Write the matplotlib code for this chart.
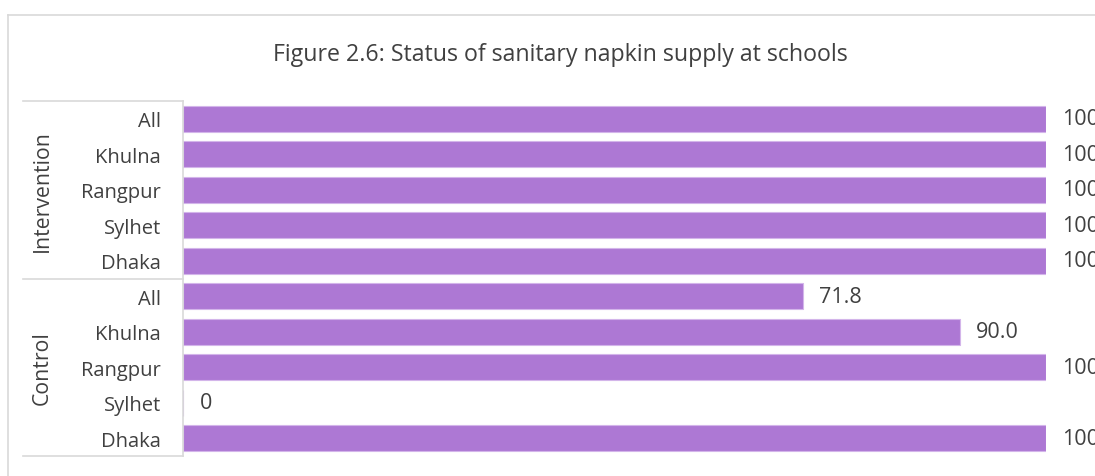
import matplotlib
matplotlib.use("Agg")
import matplotlib.pyplot as plt
from matplotlib.lines import Line2D

title = "Figure 2.6: Status of sanitary napkin supply at schools"
groups = ["Intervention", "Control"]
regions = ["All", "Khulna", "Rangpur", "Sylhet", "Dhaka"]
intervention_values = [100.0, 100.0, 100.0, 100.0, 100.0]
control_values = [71.8, 90.0, 100.0, 0.0, 100.0]

plt.rcParams['font.family'] = ['Open Sans', 'DejaVu Sans']
W, H = 1095, 477
fig = plt.figure(figsize=(W / 100, H / 100), dpi=100)

def fx(px):
    return px / W

def fy(py):
    return 1 - py / H

left, right, top, bottom = 183, 1046, 102, 457
ax = fig.add_axes([fx(left), fy(bottom), fx(right) - fx(left), fy(top) - fy(bottom)])

values = intervention_values + control_values
labels = regions + regions
n = len(values)
pos = list(range(n))
bar_color = "#AD78D4"
text_color = "#404040"

ax.barh(pos, values, height=0.74, color=bar_color, edgecolor="#D3B5EA", linewidth=0.8)
ax.set_ylim(n - 0.5, -0.5)
ax.set_xlim(0, 100)
for s in ax.spines.values():
    s.set_visible(False)
ax.set_xticks([])
ax.set_yticks(pos)
ax.set_yticklabels(labels, fontsize=14.5, color=text_color)
ax.tick_params(axis='y', length=0, pad=16)

for p, v in zip(pos, values):
    ax.text(v + 1.9, p, f"{v:.1f}" if v != 0 else "0", va="center", ha="left",
            fontsize=15.5, color=text_color, clip_on=False)

# chart area border
line_c = "#D9D9D9"
fig.add_artist(Line2D([fx(8), fx(8)], [fy(16), 0], color=line_c, lw=1.2))
fig.add_artist(Line2D([fx(8), 1], [fy(16), fy(16)], color=line_c, lw=1.2))

# category table lines
tc = "#D9D9D9"
for yy in [top, (top + bottom) / 2, bottom]:
    fig.add_artist(Line2D([fx(23), fx(left)], [fy(yy), fy(yy)], color=tc, lw=1.2))
fig.add_artist(Line2D([fx(left), fx(left)], [fy(top), fy(bottom)], color=tc, lw=1.2))

# group labels
mid = (top + bottom) / 2
fig.text(fx(42), fy((top + mid) / 2), groups[0], rotation=90, ha="center", va="center",
         fontsize=15.3, color=text_color)
fig.text(fx(42), fy((mid + bottom) / 2), groups[1], rotation=90, ha="center", va="center",
         fontsize=15.3, color=text_color)

fig.text(fx(560), fy(55), title, ha="center", va="center", fontsize=16.7, color=text_color)

fig.savefig("out.png", dpi=100)
